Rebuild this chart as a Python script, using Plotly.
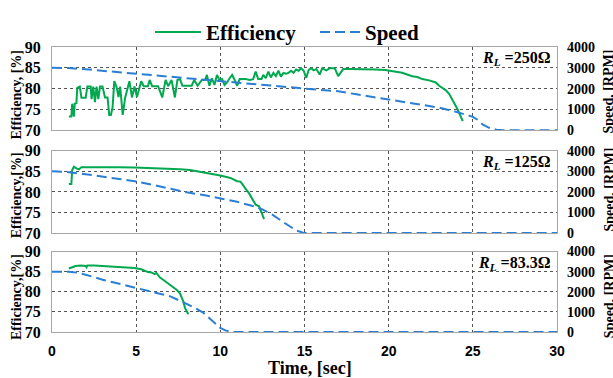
import plotly.graph_objects as go

# ---------------- data ----------------
# R_L = 250 ohm
t1_eff = [1.0, 1.15, 1.2, 1.3, 1.35, 1.45, 1.5, 1.65, 1.75, 2.0, 2.1, 2.3, 2.35, 2.45, 2.55, 2.65,
          2.75, 2.85, 3.0, 3.15, 3.3, 3.4, 3.5, 3.6, 3.7, 3.85, 3.95, 4.05, 4.2, 4.35, 4.6, 4.75,
          4.9, 5.05, 5.3, 5.45, 5.7, 5.8, 5.95, 6.3, 6.55, 6.75, 6.9, 7.1, 7.3, 7.45, 7.6, 7.75,
          8.3, 8.45, 8.65, 8.9, 9.1, 9.2, 9.35, 9.5, 9.65, 9.8, 9.95, 10.1, 10.25, 10.4, 10.55,
          10.7, 10.85, 11.0, 11.15, 11.5, 11.75, 11.95, 12.1, 12.25, 12.45, 12.55, 12.7, 12.85,
          13.0, 13.15, 13.3, 13.45, 13.6, 13.75, 13.9, 14.05, 14.2, 14.35, 14.5, 14.65, 14.8,
          14.95, 15.1, 15.25, 15.4, 15.55, 15.7, 15.9, 16.05, 16.3, 16.5, 16.8, 17.0, 17.3,
          17.7, 18.2, 18.7, 19.2, 19.8, 20.3, 20.8, 21.1, 21.4, 21.7, 22.0, 22.4, 22.8, 23.0,
          23.2, 23.4, 23.6, 23.8, 24.0, 24.1, 24.2, 24.3, 24.4]
eff1 = [73.3, 73.3, 76.4, 73.3, 76.4, 76.5, 80.2, 80.5, 77.8, 77.8, 80.5, 80.5, 77.5, 80.5, 76.8,
        80.5, 77.5, 80.5, 80.5, 77.9, 77.9, 73.7, 73.7, 75.6, 81.8, 80.2, 78.0, 80.5, 73.7, 77.9,
        81.8, 77.9, 80.5, 78.0, 81.8, 80.6, 80.6, 82.1, 80.6, 80.6, 77.9, 82.1, 80.6, 82.1, 77.9,
        82.1, 82.3, 80.7, 80.7, 82.1, 80.7, 82.1, 82.1, 83.3, 80.7, 82.5, 80.9, 83.3, 82.1, 82.3,
        80.9, 81.5, 82.5, 83.3, 82.1, 80.7, 82.3, 82.3, 82.1, 82.3, 84.1, 82.3, 82.3, 83.3, 82.5,
        84.1, 82.7, 83.8, 83.0, 84.3, 82.9, 83.8, 83.6, 83.8, 84.3, 83.8, 84.6, 84.3, 84.9, 84.3,
        82.6, 84.5, 84.9, 84.4, 84.7, 83.4, 84.9, 84.4, 84.9, 84.9, 83.0, 84.7, 84.7, 84.7, 84.6,
        84.6, 84.5, 84.2, 83.8, 83.4, 83.0, 82.8, 82.3, 82.0, 81.5, 80.7, 80.2, 79.6, 78.7, 77.3,
        75.8, 75.0, 74.1, 73.3, 72.2]
t1_spd = [0, 1, 2, 3, 4, 5, 6, 7, 8, 9, 10, 11, 12, 13, 14, 15, 16, 17, 18, 19, 20, 21, 22, 23,
          24, 24.5, 25, 25.3, 25.6, 26, 26.4, 26.8, 30]
spd1 = [3000, 2990, 2930, 2860, 2790, 2720, 2660, 2600, 2530, 2460, 2390, 2320, 2240, 2160, 2080,
        2000, 1950, 1880, 1740, 1610, 1490, 1370, 1240, 1090, 890, 780, 650, 500, 270, 110, 30,
        0, 0]

# R_L = 125 ohm
t2_eff = [1.0, 1.15, 1.2, 1.3, 1.45, 1.6, 1.75, 2.0, 2.5, 3.0, 3.5, 4.0, 4.9, 5.9, 6.9, 7.6, 8.2,
          8.8, 9.4, 10.0, 10.6, 10.8, 11.0, 11.2, 11.4, 11.55, 11.7, 11.9, 12.1, 12.3, 12.4, 12.5,
          12.6]
eff2 = [81.9, 81.9, 85.3, 86.1, 85.7, 85.5, 86.0, 86.0, 86.1, 86.0, 86.1, 86.0, 85.9, 85.8, 85.7,
        85.5, 85.3, 84.9, 84.4, 84.0, 83.4, 83.0, 82.6, 82.5, 81.2, 80.5, 79.7, 78.1, 76.9, 76.5,
        75.4, 74.6, 73.4]
t2_spd = [0, 1, 2, 3, 4, 5, 6, 7, 8, 9, 10, 11, 12, 12.5, 13, 13.5, 14, 14.5, 15, 30]
spd2 = [3000, 2960, 2860, 2740, 2630, 2510, 2340, 2160, 1980, 1850, 1700, 1520, 1300, 1150, 940,
        680, 380, 130, 0, 0]

# R_L = 83.3 ohm
t3_eff = [1.0, 1.2, 1.4, 1.7, 2.0, 2.05, 2.1, 2.5, 2.9, 3.5, 4.0, 4.5, 4.9, 5.3, 5.5, 5.7, 5.9,
          6.1, 6.2, 6.3, 6.4, 6.6, 6.8, 7.0, 7.2, 7.4, 7.6, 7.7, 7.8, 7.9, 8.0, 8.1]
eff3 = [85.8, 86.2, 86.4, 86.5, 86.4, 86.1, 86.5, 86.5, 86.4, 86.4, 86.3, 86.1, 85.9, 85.6, 85.2,
        84.9, 84.8, 84.4, 84.7, 84.1, 83.6, 83.0, 82.4, 81.8, 81.2, 80.5, 79.6, 78.7, 77.6, 76.0,
        75.2, 74.4]
t3_spd = [0, 1, 1.5, 2, 3, 4, 5, 6, 7, 8, 8.5, 9, 9.5, 10, 10.3, 10.7, 30]
spd3 = [3000, 3000, 2950, 2850, 2600, 2400, 2200, 2000, 1780, 1400, 1200, 950, 550, 200, 80, 0, 0]

load_labels = ["250Ω", "125Ω", "83.3Ω"]
eff_titles = ["Efficiency, [%]", "Efficiency,[%]", "Efficiency,[%]"]
time_ticks = [0, 5, 10, 15, 20, 25, 30]
eff_ticks = [70, 75, 80, 85, 90]
spd_ticks = [0, 1000, 2000, 3000, 4000]

# ---------------- styling ----------------
GREEN = "#00A84F"
BLUE = "#2A7FD4"
GRID = "#555555"
BORDER = "#A6A6A6"
SERIF = "Liberation Serif"

W, H = 613, 378
L, R, T, B = 52, 56, 38, 46
plot_h = H - T - B
plot_w = W - L - R


def py(px):
    """pixel row -> paper y"""
    return (H - B - px) / plot_h


def px_(x):
    """pixel column -> paper x"""
    return (x - L) / plot_w


panel_px = [(38, 124), (145, 230), (249, 332)]
domains = [[py(b), py(t)] for t, b in panel_px]
eff_title_y = [88, 191, 296]
spd_title_y = [84, 185, 295]

panels = [(t1_eff, eff1, t1_spd, spd1), (t2_eff, eff2, t2_spd, spd2), (t3_eff, eff3, t3_spd, spd3)]

fig = go.Figure()
layout = {}
annotations = []

for i, (te, ev, ts, sv) in enumerate(panels):
    n = i + 1
    xa = "x" if n == 1 else f"x{n}"
    ya = "y" if n == 1 else f"y{n}"
    ya2 = f"y{n + 3}"

    fig.add_trace(go.Scatter(
        x=ts, y=sv, xaxis=xa, yaxis=ya2, mode="lines", name="Speed",
        line=dict(color=BLUE, width=2, dash="10px,5px"),
        showlegend=(n == 1), legend="legend2"))
    fig.add_trace(go.Scatter(
        x=te, y=ev, xaxis=xa, yaxis=ya, mode="lines", name="Efficiency",
        line=dict(color=GREEN, width=2),
        showlegend=(n == 1), legend="legend"))

    layout["xaxis" if n == 1 else f"xaxis{n}"] = dict(
        domain=[0, 1], anchor=ya, range=[0, 30], tickvals=time_ticks,
        showgrid=True, gridcolor=GRID, griddash="dot", gridwidth=1,
        showline=True, linecolor=BORDER, linewidth=1, mirror=True,
        zeroline=False, ticks="",
        showticklabels=(n == 3), ticklabelstandoff=6,
        tickfont=dict(family="Liberation Sans", size=14, color="black", weight="bold"),
        matches=None if n == 1 else "x")
    layout["yaxis" if n == 1 else f"yaxis{n}"] = dict(
        domain=domains[i], anchor=xa, range=[70, 90], tickvals=eff_ticks,
        showgrid=True, gridcolor=GRID, griddash="dot", gridwidth=1,
        showline=True, linecolor=BORDER, linewidth=1, mirror=True,
        zeroline=False, ticks="", ticklabelstandoff=7,
        tickfont=dict(family=SERIF, size=16, color="black", weight="bold"))
    layout[f"yaxis{n + 3}"] = dict(
        overlaying=ya, side="right", anchor=xa, range=[0, 4000], tickvals=spd_ticks,
        showgrid=False, zeroline=False, showline=False, ticks="", ticklabelstandoff=9,
        tickfont=dict(family=SERIF, size=14, color="black", weight="bold"))

    top, bot = panel_px[i]
    annotations.append(dict(
        xref="paper", yref="paper", x=px_(16), y=py(eff_title_y[i]), textangle=-90,
        text=eff_titles[i], showarrow=False,
        font=dict(family=SERIF, size=14, color="black", weight="bold"),
        xanchor="center", yanchor="middle"))
    annotations.append(dict(
        xref="paper", yref="paper", x=px_(609), y=py(spd_title_y[i]), textangle=-90,
        text="Speed, [RPM]", showarrow=False,
        font=dict(family=SERIF, size=14, color="black", weight="bold"),
        xanchor="center", yanchor="middle"))
    annotations.append(dict(
        xref="paper", yref="paper", x=px_(553), y=py(top + 12),
        text=f"<i>R</i><sub><i>L</i></sub> ={load_labels[i]}", showarrow=False,
        font=dict(family=SERIF, size=16, color="black", weight="bold"),
        xanchor="right", yanchor="middle"))

annotations.append(dict(
    xref="paper", yref="paper", x=px_(310), y=py(369), text="Time, [sec]",
    showarrow=False, font=dict(family=SERIF, size=18, color="black", weight="bold"),
    xanchor="center", yanchor="middle"))

legend_font = dict(family=SERIF, size=21, color="black", weight="bold")
fig.update_layout(
    width=W, height=H,
    margin=dict(l=L, r=R, t=T, b=B),
    paper_bgcolor="white", plot_bgcolor="white",
    showlegend=True,
    legend=dict(orientation="h", x=px_(150), xanchor="left", y=py(23), yanchor="middle",
                font=legend_font, bgcolor="rgba(0,0,0,0)", itemwidth=46),
    legend2=dict(orientation="h", x=px_(315), xanchor="left", y=py(23), yanchor="middle",
                 font=legend_font, bgcolor="rgba(0,0,0,0)", itemwidth=40),
    annotations=annotations,
    **layout)

fig.write_html("out.html")
